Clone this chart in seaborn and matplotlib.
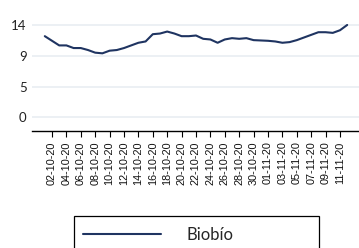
import pandas as pd
import seaborn as sns
import matplotlib.pyplot as plt
from matplotlib.patches import Rectangle

# daily values, 01-10-20 .. 12-11-20
dates = pd.date_range("2020-10-01", "2020-11-12", freq="D")
values = [12.3, 11.6, 10.9, 10.9, 10.5, 10.5, 10.2, 9.8, 9.7, 10.1,
          10.2, 10.5, 10.9, 11.3, 11.5, 12.6, 12.7, 13.0, 12.7, 12.3,
          12.3, 12.4, 11.9, 11.8, 11.3, 11.8, 12.0, 11.9, 12.0, 11.7,
          11.65, 11.6, 11.5, 11.3, 11.4, 11.7, 12.1, 12.5, 12.9, 12.9,
          12.8, 13.2, 14.0]
series_name = "Biobío"
y_ticks = [0, 14 / 3, 28 / 3, 14]

df = pd.DataFrame({"idx": range(len(dates)), "valor": values})
labels = [d.strftime("%d-%m-%y") for d in dates]

sns.set_style("white")
plt.rcParams["font.family"] = ["Liberation Sans", "DejaVu Sans"]

W, H = 359, 248
fig = plt.figure(figsize=(W / 100, H / 100), dpi=100)
ax = fig.add_axes([31.7 / W, 1 - 130.7 / H, 327.3 / W, 106.4 / H])

line_color = "#1f3461"
sns.lineplot(data=df, x="idx", y="valor", ax=ax, color=line_color,
             linewidth=1.5, label=series_name, legend=False)

ax.set_xlim(-1.82, 43.64)
ax.set_ylim(-2.03, 14.1)

ax.set_yticks(y_ticks)
ax.set_yticklabels([f"{v:.0f}" for v in y_ticks], family=["Lato", "DejaVu Sans"],
                   fontsize=9.5)
ax.tick_params(axis="y", length=0, pad=3.6, colors="#222222")
ax.grid(axis="y", color="#e9eef2", linewidth=1.2)
ax.set_axisbelow(True)

tick_pos = list(range(1, len(dates), 2))
ax.set_xticks(tick_pos)
ax.set_xticklabels([labels[i] for i in tick_pos], rotation=90, fontsize=7.8)
ax.tick_params(axis="x", direction="out", length=4.3, width=0.8, color="black",
               pad=3.5, bottom=True, labelcolor="#111111")

for s in ["top", "right", "left"]:
    ax.spines[s].set_visible(False)
ax.spines["bottom"].set_color("black")
ax.spines["bottom"].set_linewidth(1.0)
ax.set_xlabel("")
ax.set_ylabel("")

# legend box at the bottom
handles, lbls = ax.get_legend_handles_labels()
fig.legend(handles, lbls, loc="center left", bbox_to_anchor=(82.7 / W, 1 - 235 / H),
           frameon=False, handlelength=4.7, handletextpad=1.55,
           borderpad=0, borderaxespad=0, prop={"family": ["Lato", "DejaVu Sans"], "size": 12})
fig.patches.append(Rectangle((74 / W, -0.1), (319 - 74) / W, 0.1 + 1 - 216 / H,
                             transform=fig.transFigure, fill=False,
                             edgecolor="black", linewidth=0.9))

fig.savefig("out.png", dpi=100)
